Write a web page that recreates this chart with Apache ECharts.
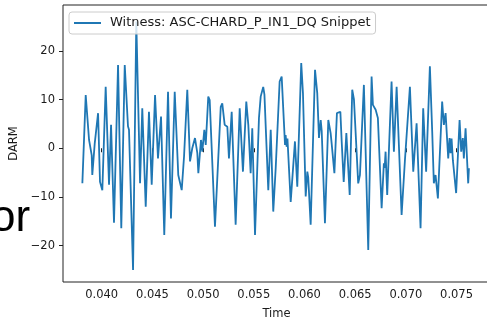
<!DOCTYPE html>
<html>
<head>
<meta charset="utf-8">
<script src="https://cdn.jsdelivr.net/npm/echarts@6/dist/echarts.min.js"></script>
<style>
  html, body { margin: 0; padding: 0; background: #fff; }
  #darmChart { width: 487px; height: 320px; }
</style>
</head>
<body>
<div id="darmChart"></div>
<script>
var seriesName = 'Witness: ASC-CHARD_P_IN1_DQ Snippet';

// sample times (s)
var times = [
  0.03809, 0.03842, 0.03875, 0.03901, 0.03907, 0.03931, 0.03964, 0.03983, 0.04006, 0.04039,
  0.04072, 0.04092, 0.04121, 0.04161, 0.04193, 0.04227, 0.04259, 0.04269, 0.04309, 0.04341,
  0.04378, 0.04400, 0.04434, 0.04466, 0.04493, 0.04526, 0.04555, 0.04565, 0.04585, 0.04617,
  0.04654, 0.04683, 0.04720, 0.04755, 0.04789, 0.04812, 0.04844, 0.04871, 0.04893, 0.04920,
  0.04943, 0.04953, 0.04979, 0.04992, 0.05012, 0.05026, 0.05051, 0.05065, 0.05117, 0.05174,
  0.05189, 0.05213, 0.05239, 0.05255, 0.05282, 0.05321, 0.05361, 0.05393, 0.05426, 0.05446,
  0.05469, 0.05485, 0.05512, 0.05551, 0.05568, 0.05593, 0.05605, 0.05643, 0.05667, 0.05692,
  0.05716, 0.05755, 0.05775, 0.05808, 0.05814, 0.05824, 0.05832, 0.05864, 0.05906, 0.05929,
  0.05968, 0.05985, 0.06012, 0.06028, 0.06037, 0.06061, 0.06104, 0.06126, 0.06143, 0.06160,
  0.06170, 0.06202, 0.06235, 0.06258, 0.06268, 0.06295, 0.06320, 0.06337, 0.06354, 0.06367,
  0.06387, 0.06413, 0.06446, 0.06471, 0.06488, 0.06530, 0.06547, 0.06586, 0.06629, 0.06662,
  0.06675, 0.06685, 0.06702, 0.06724, 0.06761, 0.06783, 0.06791, 0.06800, 0.06816, 0.06859,
  0.06882, 0.06909, 0.06958, 0.06991, 0.07004, 0.07040, 0.07073, 0.07106, 0.07145, 0.07171,
  0.07200, 0.07237, 0.07260, 0.07276, 0.07293, 0.07316, 0.07358, 0.07375, 0.07392, 0.07418,
  0.07431, 0.07441, 0.07451, 0.07464, 0.07496, 0.07530, 0.07546, 0.07562, 0.07572, 0.07589,
  0.07615, 0.07622
];

// DARM witness values
var darm = [
  -7.2, 10.9, 1.7, -1.4, -5.5, 1.0, 7.2, -6.9, -8.6, 12.6,
  -7.5, 4.8, -15.3, 17.1, -16.4, 17.1, 4.5, 3.8, -25.0, 26.0,
  -7.2, 8.2, -12.0, 7.5, -7.5, 10.9, -2.1, -2.4, 6.5, -17.8,
  11.6, -14.4, 11.6, -5.5, -8.6, -1.7, 12.0, -2.7, 0.0, 2.1,
  -1.0, -5.1, 1.7, -0.7, 3.8, 0.7, 10.6, 9.9, -16.1, 8.5,
  9.2, 4.8, 4.4, -2.1, 7.5, -15.7, 8.2, -4.8, 9.6, 4.8,
  -5.1, 4.1, -17.8, 6.2, 10.6, 12.6, 11.0, -8.6, 3.8, -13.0,
  -4.1, 13.7, 14.7, 0.7, 2.7, 0.3, 2.0, -11.0, 1.4, -7.9,
  17.5, 11.3, -9.9, -4.8, -6.0, -15.7, 16.1, 11.3, 2.1, 5.8,
  3.5, -15.4, 5.8, 3.1, 1.0, -5.1, 7.2, 7.0, 7.5, 1.4,
  -6.9, 3.1, -9.6, 12.0, 10.0, -7.2, -5.5, 13.0, -20.9, 14.7,
  8.9, 9.3, 7.9, 6.2, -12.3, -3.1, -4.0, -0.7, -9.6, 13.7,
  -0.7, 12.6, -13.7, -2.4, -2.0, 12.6, -4.8, 5.1, -16.4, 8.2,
  -4.8, 16.8, 3.4, -7.2, -5.5, -10.3, 9.6, 4.8, 7.2, -2.1,
  2.1, -1.0, 2.0, -2.5, -9.2, 5.8, -0.7, 2.1, -2.1, 4.1,
  -7.2, -4.1
];

var xTicks = [0.040, 0.045, 0.050, 0.055, 0.060, 0.065, 0.070, 0.075];
var yTicks = [-20, -10, 0, 10, 20];

var points = times.map(function (t, i) { return [t, darm[i]]; });

var txt = '#1a1a1a';
var font = 'DejaVu Sans';

var myChart = echarts.init(document.getElementById('darmChart'));
var option = {
  animation: false,
  backgroundColor: '#fff',
  grid: {
    left: 63,
    top: 5,
    width: 427,
    height: 277,
    outerBoundsMode: 'none',
    containLabel: false,
    show: true,
    borderColor: '#222',
    borderWidth: 1,
    backgroundColor: 'transparent'
  },
  legend: {
    left: 69,
    top: 12,
    icon: 'rect',
    itemWidth: 27,
    itemHeight: 2,
    padding: [4, 5, 4, 5],
    backgroundColor: 'rgba(255,255,255,0.8)',
    borderColor: '#cccccc',
    borderWidth: 1,
    borderRadius: 3,
    textStyle: { fontFamily: font, fontSize: 13, color: txt, lineHeight: 14, padding: [0, 0, 0, 4] },
    data: [seriesName]
  },
  xAxis: {
    type: 'value',
    min: 0.03618,
    max: 0.07830,
    name: 'Time',
    nameLocation: 'middle',
    nameGap: 26,
    nameTextStyle: { fontFamily: font, fontSize: 11.5, color: txt },
    axisLine: { show: false },
    axisTick: { show: true, length: 4, lineStyle: { color: '#222' }, customValues: xTicks },
    axisLabel: {
      fontFamily: font, fontSize: 11.5, color: txt, margin: 7,
      customValues: xTicks,
      formatter: function (v) { return v.toFixed(3); }
    },
    splitLine: { show: false }
  },
  yAxis: {
    type: 'value',
    min: -27.45,
    max: 29.4,
    name: 'DARM',
    nameLocation: 'middle',
    nameGap: 40,
    nameTextStyle: { fontFamily: font, fontSize: 11.5, color: txt },
    axisLine: { show: false },
    axisTick: { show: true, length: 4, lineStyle: { color: '#222' }, customValues: yTicks },
    axisLabel: {
      fontFamily: font, fontSize: 11.5, color: txt, margin: 8,
      customValues: yTicks,
      formatter: function (v) { return v < 0 ? '\u2212' + (-v) : String(v); }
    },
    splitLine: { show: false }
  },
  graphic: [{
    type: 'text',
    left: -9,
    top: 197,
    style: { text: 'or', fontFamily: 'Liberation Sans', fontSize: 44, fill: '#000' }
  }],
  series: [{
    name: seriesName,
    type: 'line',
    data: points,
    showSymbol: false,
    symbol: 'none',
    color: '#1f77b4',
    lineStyle: { width: 1.8, color: '#1f77b4' }
  }]
};
myChart.setOption(option);
</script>
</body>
</html>
